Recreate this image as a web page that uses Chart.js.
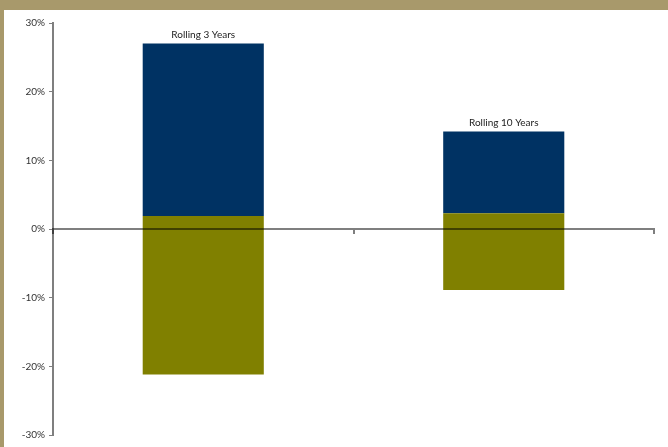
<!DOCTYPE html>
<html>
<head>
<meta charset="utf-8">
<script src="https://cdn.jsdelivr.net/npm/chart.js@4"></script>
<style>
  html, body { margin: 0; padding: 0; background: #fff; }
  #wrap {
    width: 664px; height: 437px;
    border-top: 10px solid #a8996b;
    border-left: 4px solid #a8996b;
    background: #fff;
  }
</style>
</head>
<body>
<div id="wrap"><canvas id="rangeChart" width="664" height="437"></canvas></div>
<script>
// datos del grafico
const categories = ['Rolling 3 Years', 'Rolling 10 Years'];
const lowValues = [-21.2, -8.9];   // parte inferior (olivo)
const midValues = [1.9, 2.3];      // corte entre colores
const highValues = [27.0, 14.2];   // parte superior (azul)
const yTicks = [-30, -20, -10, 0, 10, 20, 30];

const axisColor = 'rgba(0,0,0,0.5)';

// etiquetas encima de cada barra
const barLabels = {
  id: 'barLabels',
  afterDatasetsDraw(chart) {
    const ctx = chart.ctx;
    const meta = chart.getDatasetMeta(1);
    ctx.save();
    ctx.font = '10px Lato';
    ctx.fillStyle = '#222';
    ctx.textAlign = 'center';
    ctx.textBaseline = 'bottom';
    meta.data.forEach((bar, i) => {
      ctx.fillText(categories[i], bar.x, bar.y - 4);
    });
    ctx.restore();
  }
};

new Chart(document.getElementById('rangeChart'), {
  type: 'bar',
  data: {
    labels: categories,
    datasets: [
      {
        label: 'Low',
        data: lowValues.map((v, i) => [v, midValues[i]]),
        backgroundColor: '#808000',
        grouped: false,
        barPercentage: 0.403,
        categoryPercentage: 1
      },
      {
        label: 'High',
        data: midValues.map((v, i) => [v, highValues[i]]),
        backgroundColor: '#003263',
        grouped: false,
        barPercentage: 0.403,
        categoryPercentage: 1
      }
    ]
  },
  options: {
    responsive: false,
    animation: false,
    layout: { padding: { left: 0, right: 14, top: 13, bottom: 12 } },
    plugins: {
      legend: { display: false },
      tooltip: { enabled: false }
    },
    scales: {
      x: {
        position: { y: 0 },
        offset: true,
        ticks: { display: false },
        // eje encima de las barras
        grid: { z: 1, drawOnChartArea: false, drawTicks: true, tickLength: 4, color: axisColor, lineWidth: 2 },
        border: { z: 1, color: axisColor, width: 2 },
        afterFit(scale) { scale.height = 0; }
      },
      y: {
        min: -30,
        max: 30,
        afterBuildTicks(scale) { scale.ticks = yTicks.map(v => ({ value: v })); },
        ticks: {
          font: { family: 'Lato', size: 10 },
          color: '#333',
          padding: 4,
          callback: (v) => v + '%'
        },
        grid: { drawOnChartArea: false, drawTicks: true, tickLength: 4, color: axisColor, lineWidth: 1 },
        border: { color: axisColor, width: 2 },
        afterFit(scale) { scale.width = 49; }
      }
    }
  },
  plugins: [barLabels]
});
</script>
</body>
</html>
